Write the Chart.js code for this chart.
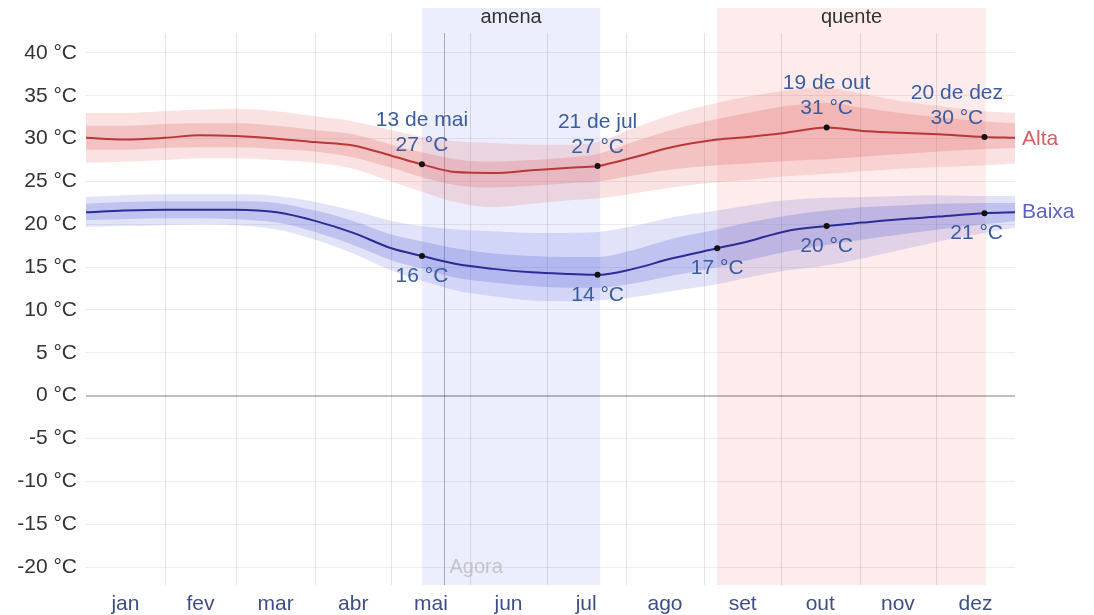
<!DOCTYPE html>
<html>
<head>
<meta charset="utf-8">
<script src="https://cdn.jsdelivr.net/npm/chart.js@4.4.1/dist/chart.umd.min.js"></script>
<style>
html,body{margin:0;padding:0;background:#fff;}
#wrap{width:1094px;height:615px;position:relative;}
</style>
</head>
<body>
<div id="wrap"><canvas id="c" width="1094" height="615"></canvas></div>
<script>
// ---- data ----
const months = ['jan','fev','mar','abr','mai','jun','jul','ago','set','out','nov','dez'];
const monthStarts = [0,31,59,90,120,151,181,212,243,273,304,334,365];
const yTickValues = [-20,-15,-10,-5,0,5,10,15,20,25,30,35,40];

const days = [0,15,31,45,59,75,90,105,120,132,145,160,175,190,201,215,230,248,260,275,291,305,320,335,353,365];

const altaMean = [30.1,29.9,30.1,30.4,30.3,30.0,29.6,29.2,28.0,27.0,26.1,26.0,26.3,26.6,26.8,27.8,29.0,29.9,30.2,30.7,31.3,30.9,30.7,30.5,30.2,30.1];
const altaP10  = [27.2,27.3,27.5,27.7,27.7,27.5,27.2,26.5,25.0,23.8,22.6,22.0,22.4,22.8,23.0,23.6,24.3,24.9,25.2,25.6,25.9,26.2,26.5,26.7,26.9,27.1];
const altaP25  = [28.7,28.7,28.9,29.0,29.0,28.8,28.5,27.8,26.6,25.5,24.6,24.3,24.5,24.8,25.0,25.7,26.4,26.9,27.1,27.4,27.6,27.9,28.2,28.5,28.8,28.9];
const altaP75  = [31.5,31.5,31.7,31.8,31.8,31.5,31.0,30.5,29.3,28.4,27.6,27.3,27.5,27.8,28.2,29.6,31.0,32.3,33.0,33.8,34.2,33.6,33.0,32.5,32.0,31.8];
const altaP90  = [33.0,33.0,33.2,33.4,33.5,33.2,32.6,32.0,31.0,30.2,29.7,29.5,29.3,29.3,29.6,31.2,32.8,34.2,34.9,35.6,35.9,35.2,34.4,33.8,33.2,33.0];

const baixaMean = [21.4,21.6,21.7,21.7,21.7,21.4,20.4,19.0,17.2,16.3,15.4,14.8,14.4,14.2,14.1,14.8,16.0,17.2,18.0,19.2,19.8,20.2,20.6,20.9,21.3,21.4];
const baixaP10  = [19.7,19.8,19.9,20.0,19.9,19.4,18.2,16.6,14.6,13.4,12.3,11.6,11.1,11.0,11.1,11.5,12.2,13.0,13.8,14.6,15.2,16.0,17.0,18.0,19.0,19.6];
const baixaP25  = [20.5,20.6,20.7,20.7,20.6,20.2,19.1,17.6,15.8,14.8,13.8,13.2,12.8,12.6,12.6,13.1,14.0,15.0,15.8,16.8,17.6,18.2,18.8,19.4,20.0,20.4];
const baixaP75  = [22.4,22.6,22.7,22.7,22.7,22.5,21.6,20.4,18.8,18.0,17.2,16.6,16.3,16.2,16.2,17.0,18.3,19.4,20.2,21.0,21.6,22.0,22.2,22.4,22.5,22.5];
const baixaP90  = [23.2,23.4,23.5,23.5,23.5,23.3,22.6,21.6,20.4,19.8,19.4,19.2,19.0,19.0,19.1,19.8,20.8,21.6,22.2,22.8,23.1,23.2,23.3,23.4,23.3,23.3];

const altaMarkDays   = [132,201,291,353];
const altaMarkVals   = [27.0,26.8,31.3,30.2];
const altaMarkDates  = ['13 de mai','21 de jul','19 de out','20 de dez'];
const altaMarkTexts  = ['27 °C','27 °C','31 °C','30 °C'];

const baixaMarkDays  = [132,201,248,291,353];
const baixaMarkVals  = [16.3,14.1,17.2,19.8,21.3];
const baixaMarkTexts = ['16 °C','14 °C','17 °C','20 °C','21 °C'];

const seasonNames = ['amena','quente'];
const seasonStart = [132,248];
const seasonEnd   = [202,353.5];
const nowDay = 140.5;
const nowLabel = 'Agora';
const seriesNames = ['Alta','Baixa'];

// ---- helpers ----
const FONT = '"Liberation Sans", Arial, sans-serif';
const pts = (xs, ys) => xs.map((x,i)=>({x:x, y:ys[i]}));
const monthMids = months.map((m,i)=>(monthStarts[i]+monthStarts[i+1])/2);

function band(data, color, fillTarget){
  return {data:data, borderWidth:0, pointRadius:0, fill:fillTarget, backgroundColor:color,
          cubicInterpolationMode:'monotone'};
}

const decor = {
  id:'decor',
  beforeDraw(chart){
    const {ctx, chartArea:a, scales:{x}} = chart;
    ctx.save();
    ctx.fillStyle = '#fff';
    ctx.fillRect(0,0,chart.width,chart.height);
    const cols = ['rgba(228,231,252,0.7)','rgba(253,226,226,0.68)'];
    seasonNames.forEach((n,i)=>{
      const x0 = x.getPixelForValue(seasonStart[i]);
      const x1 = x.getPixelForValue(seasonEnd[i]);
      ctx.fillStyle = cols[i];
      ctx.fillRect(x0, a.top, x1-x0, a.bottom-a.top);
      ctx.fillStyle = '#333';
      ctx.font = '20px ' + FONT;
      ctx.textAlign = 'center';
      ctx.textBaseline = 'middle';
      ctx.fillText(n, (x0+x1)/2, 17);
    });
    ctx.restore();
  },
  beforeDatasetsDraw(chart){
    const {ctx, chartArea:a, scales:{x}} = chart;
    ctx.save();
    ctx.strokeStyle = 'rgba(0,0,0,0.11)';
    ctx.lineWidth = 1;
    monthStarts.slice(1,-1).forEach(d=>{
      const px = Math.round(x.getPixelForValue(d))+0.5;
      ctx.beginPath(); ctx.moveTo(px, 33); ctx.lineTo(px, a.bottom); ctx.stroke();
    });
    const nx = Math.round(x.getPixelForValue(nowDay))+0.5;
    ctx.strokeStyle = 'rgba(0,0,0,0.28)';
    ctx.beginPath(); ctx.moveTo(nx, 33); ctx.lineTo(nx, a.bottom); ctx.stroke();
    ctx.fillStyle = 'rgba(170,170,170,0.6)';
    ctx.font = '20px ' + FONT;
    ctx.textAlign = 'left';
    ctx.textBaseline = 'middle';
    ctx.fillText(nowLabel, nx+5, 567);
    ctx.restore();
  },
  afterDatasetsDraw(chart){
    const {ctx, scales:{x,y}} = chart;
    ctx.save();
    ctx.font = '21px ' + FONT;
    ctx.textBaseline = 'middle';
    ctx.textAlign = 'center';
    ctx.fillStyle = '#3b5c9e';
    const maxRight = 1003;
    const place = (txt, px) => {
      const w = ctx.measureText(txt).width;
      return Math.min(px, maxRight - w/2);
    };
    altaMarkDays.forEach((d,i)=>{
      const px = x.getPixelForValue(d), py = y.getPixelForValue(altaMarkVals[i]);
      ctx.fillText(altaMarkDates[i], place(altaMarkDates[i], px), py-44);
      ctx.fillText(altaMarkTexts[i], place(altaMarkDates[i], px), py-19);
    });
    baixaMarkDays.forEach((d,i)=>{
      const px = x.getPixelForValue(d), py = y.getPixelForValue(baixaMarkVals[i]);
      ctx.fillText(baixaMarkTexts[i], place(baixaMarkTexts[i], px), py+20);
    });
    ctx.textAlign = 'left';
    const lastA = altaMean[altaMean.length-1], lastB = baixaMean[baixaMean.length-1];
    const ex = x.getPixelForValue(days[days.length-1]);
    ctx.fillStyle = '#d06262';
    ctx.fillText(seriesNames[0], ex+7, y.getPixelForValue(lastA)+1);
    ctx.fillStyle = '#5a63c0';
    ctx.fillText(seriesNames[1], ex+7, y.getPixelForValue(lastB));
    ctx.restore();
  }
};

new Chart(document.getElementById('c'), {
  type:'line',
  data:{
    datasets:[
      {data:pts(altaMarkDays, altaMarkVals), showLine:false, pointRadius:3, pointBackgroundColor:'#111', pointBorderWidth:0},
      {data:pts(baixaMarkDays, baixaMarkVals), showLine:false, pointRadius:3, pointBackgroundColor:'#111', pointBorderWidth:0},
      {data:pts(days, altaMean), borderColor:'#b8383a', borderWidth:2, pointRadius:0, fill:false, cubicInterpolationMode:'monotone'},
      {data:pts(days, baixaMean), borderColor:'#2b2c95', borderWidth:2, pointRadius:0, fill:false, cubicInterpolationMode:'monotone'},
      band(pts(days, altaP75), 'rgba(222,95,95,0.24)', '+1'),
      band(pts(days, altaP25), 'rgba(0,0,0,0)', false),
      band(pts(days, baixaP75), 'rgba(85,90,215,0.24)', '+1'),
      band(pts(days, baixaP25), 'rgba(0,0,0,0)', false),
      band(pts(days, altaP90), 'rgba(228,110,110,0.2)', '+1'),
      band(pts(days, altaP10), 'rgba(0,0,0,0)', false),
      band(pts(days, baixaP90), 'rgba(95,100,220,0.18)', '+1'),
      band(pts(days, baixaP10), 'rgba(0,0,0,0)', false)
    ]
  },
  options:{
    responsive:false,
    animation:false,
    events:[],
    layout:{padding:{left:0, right:79, top:8, bottom:0}},
    plugins:{legend:{display:false}, tooltip:{enabled:false}},
    scales:{
      x:{
        type:'linear', min:0, max:365,
        afterBuildTicks(s){ s.ticks = monthMids.map(v=>({value:v})); },
        afterFit(s){ s.height = 30; s.paddingLeft = 0; s.paddingRight = 0; },
        grid:{display:false, drawTicks:false},
        border:{display:false},
        ticks:{
          padding:7, color:'#3e4f84', font:{family:FONT, size:21},
          autoSkip:false, maxRotation:0,
          callback:(v,i)=>months[i]
        }
      },
      y:{
        type:'linear', min:-22.1, max:45.25,
        afterBuildTicks(s){ s.ticks = yTickValues.map(v=>({value:v})); },
        afterFit(s){ s.width = 86; s.paddingTop = 0; s.paddingBottom = 0; },
        grid:{
          drawTicks:false,
          color:(c)=> c.tick && c.tick.value===0 ? 'rgba(0,0,0,0.25)' : 'rgba(0,0,0,0.07)',
          lineWidth:(c)=> c.tick && c.tick.value===0 ? 2 : 1
        },
        border:{display:false},
        ticks:{
          padding:9, color:'#333', font:{family:FONT, size:21},
          callback:(v)=> v + ' °C'
        }
      }
    }
  },
  plugins:[decor]
});
</script>
</body>
</html>
